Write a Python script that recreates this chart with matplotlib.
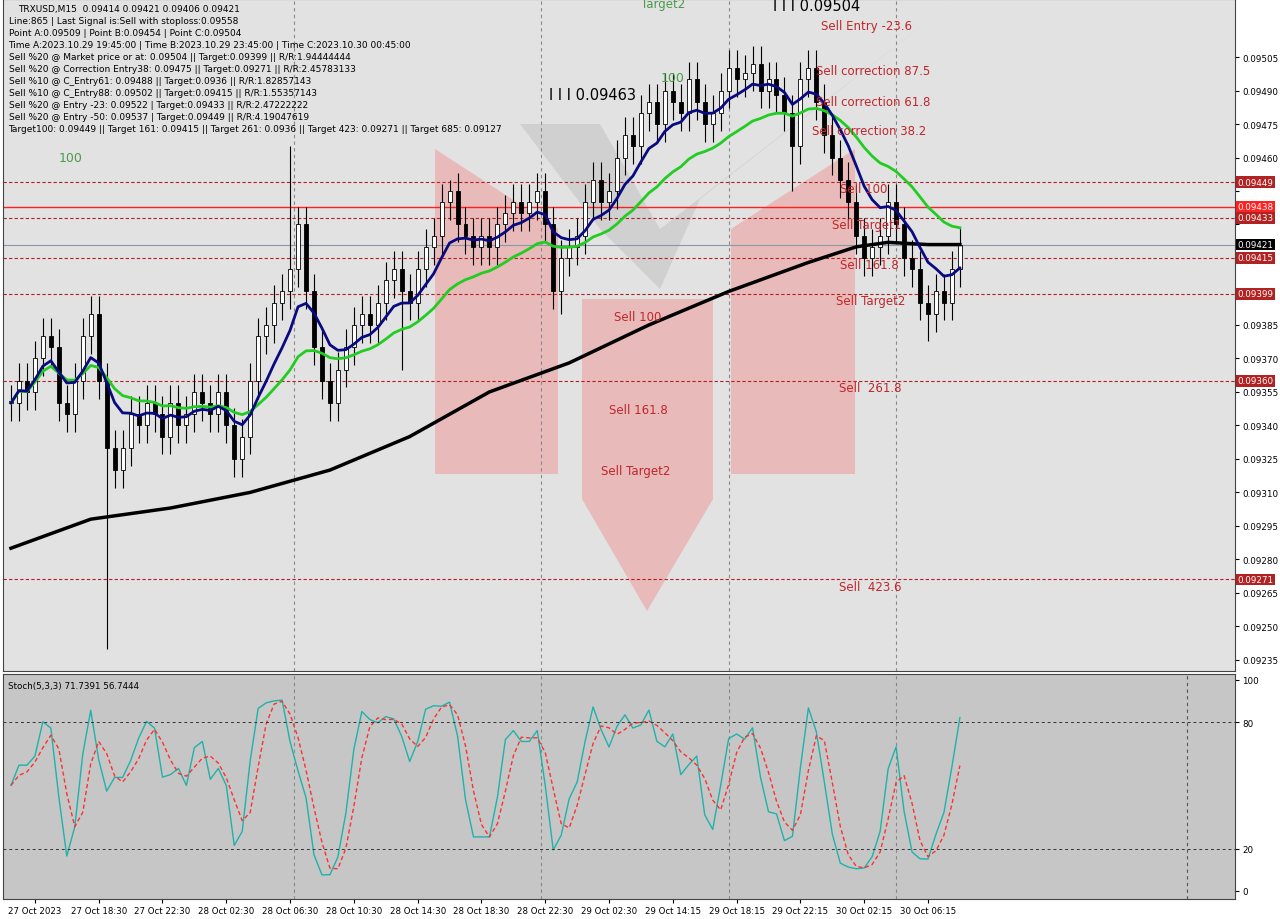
import matplotlib
matplotlib.use("Agg")
import matplotlib.pyplot as plt
import numpy as np
import pandas as pd
from matplotlib.patches import Polygon, Rectangle

# ── Data (30-min-equivalent bars) ────────────────────────────────────────────
closes = [
    0.09350, 0.09360, 0.09355, 0.09370, 0.09380, 0.09375, 0.09350, 0.09345, 0.09360, 0.09380,
    0.09390, 0.09360, 0.09330, 0.09320, 0.09330, 0.09345, 0.09340, 0.09350, 0.09345, 0.09335,
    0.09350, 0.09340, 0.09345, 0.09355, 0.09350, 0.09345, 0.09355, 0.09340, 0.09325, 0.09335,
    0.09360, 0.09380, 0.09385, 0.09395, 0.09400, 0.09410, 0.09430, 0.09400, 0.09375, 0.09360,
    0.09350, 0.09365, 0.09375, 0.09385, 0.09390, 0.09385, 0.09395, 0.09405, 0.09410, 0.09400,
    0.09395, 0.09410, 0.09420, 0.09425, 0.09440, 0.09445, 0.09430, 0.09425, 0.09420, 0.09425,
    0.09420, 0.09430, 0.09435, 0.09440, 0.09435, 0.09440, 0.09445, 0.09430, 0.09400, 0.09415,
    0.09420, 0.09425, 0.09440, 0.09450, 0.09440, 0.09445, 0.09460, 0.09470, 0.09465, 0.09480,
    0.09485, 0.09475, 0.09490, 0.09485, 0.09480, 0.09495, 0.09485, 0.09475, 0.09480, 0.09490,
    0.09500, 0.09495, 0.09498, 0.09502, 0.09490, 0.09495, 0.09488, 0.09480, 0.09465, 0.09495,
    0.09500, 0.09485, 0.09470, 0.09460, 0.09450, 0.09440, 0.09425, 0.09415, 0.09420, 0.09425,
    0.09440, 0.09430, 0.09415, 0.09410, 0.09395, 0.09390, 0.09400, 0.09395, 0.09410, 0.09421,
]
long_wicks = {12: 0.09240, 35: 0.09465, 49: 0.09365, 55: 0.09450, 69: 0.09390, 98: 0.09445, 115: 0.09378}
ma200_x = [0, 10, 20, 30, 40, 50, 60, 70, 80, 90, 100, 106, 110, 115, 119]
ma200_v = [0.09285, 0.09298, 0.09303, 0.09310, 0.09320, 0.09335, 0.09355, 0.09368, 0.09385, 0.09400,
           0.09413, 0.09420, 0.09422, 0.09421, 0.09421]
levels_dash = [0.09449, 0.09433, 0.09415, 0.09399, 0.09360, 0.09271]
level_solid = 0.09438
level_last = 0.09421
tick_labels = ["27 Oct 2023", "27 Oct 18:30", "27 Oct 22:30", "28 Oct 02:30", "28 Oct 06:30",
               "28 Oct 10:30", "28 Oct 14:30", "28 Oct 18:30", "28 Oct 22:30", "29 Oct 02:30",
               "29 Oct 14:15", "29 Oct 18:15", "29 Oct 22:15", "30 Oct 02:15", "30 Oct 06:15"]
price_ticks = [0.09235, 0.09250, 0.09265, 0.09280, 0.09295, 0.09310, 0.09325, 0.09340, 0.09355,
               0.09370, 0.09385, 0.09400, 0.09415, 0.09430, 0.09445, 0.09460, 0.09475, 0.09490, 0.09505]
info_lines = [
    "TRXUSD,M15  0.09414 0.09421 0.09406 0.09421",
    "Line:865 | Last Signal is:Sell with stoploss:0.09558",
    "Point A:0.09509 | Point B:0.09454 | Point C:0.09504",
    "Time A:2023.10.29 19:45:00 | Time B:2023.10.29 23:45:00 | Time C:2023.10.30 00:45:00",
    "Sell %20 @ Market price or at: 0.09504 || Target:0.09399 || R/R:1.94444444",
    "Sell %20 @ Correction Entry38: 0.09475 || Target:0.09271 || R/R:2.45783133",
    "Sell %10 @ C_Entry61: 0.09488 || Target:0.0936 || R/R:1.82857143",
    "Sell %10 @ C_Entry88: 0.09502 || Target:0.09415 || R/R:1.55357143",
    "Sell %20 @ Entry -23: 0.09522 | Target:0.09433 || R/R:2.47222222",
    "Sell %20 @ Entry -50: 0.09537 | Target:0.09449 || R/R:4.19047619",
    "Target100: 0.09449 || Target 161: 0.09415 || Target 261: 0.0936 || Target 423: 0.09271 || Target 685: 0.09127",
]

# ── Derived ohlc ─────────────────────────────────────────────────────────────
c = pd.Series(closes)
o = c.shift(1).fillna(c.iloc[0])
hi = np.maximum(o, c) + 0.00008
lo = np.minimum(o, c) - 0.00008
for k, v in long_wicks.items():
    if v > c[k]:
        hi[k] = v
    else:
        lo[k] = v
ema_fast = c.ewm(span=8).mean()
ema_slow = c.ewm(span=22).mean()
ll = lo.rolling(5, min_periods=1).min()
hh = hi.rolling(5, min_periods=1).max()
k_raw = 100 * (c - ll) / (hh - ll)
stoch_k = k_raw.rolling(2, min_periods=1).mean()
stoch_d = stoch_k.rolling(3, min_periods=1).mean()

# ── Figure ───────────────────────────────────────────────────────────────────
fig = plt.figure(figsize=(12.8, 9.2), dpi=100)
fig.patch.set_facecolor("white")
AX_L, AX_R, AX_T, AX_B = 3, 1235, 0, 672
ax = fig.add_axes([AX_L / 1280, 1 - AX_B / 920, (AX_R - AX_L) / 1280, (AX_B - AX_T) / 920])
ax2 = fig.add_axes([AX_L / 1280, 20 / 920, (AX_R - AX_L) / 1280, 255 / 920 - 30 / 920])
ax.set_facecolor("#e2e2e2")
ax2.set_facecolor("#c6c6c6")
XMAX = 153.5
for a in (ax, ax2):
    a.set_xlim(-1, XMAX)
    a.yaxis.tick_right()
    a.tick_params(axis="y", length=3, pad=2)
    for s in a.spines.values():
        s.set_color("#444444")
        s.set_linewidth(0.8)
ax.set_ylim(0.09230, 0.09531)
ax2.set_ylim(-3.8, 102.8)

# watermark shapes, pixel coords -> axes fraction
def px(x, y):
    return ((x - AX_L) / (AX_R - AX_L), 1 - (y - AX_T) / (AX_B - AX_T))

wm = dict(facecolor="#f08a8a", alpha=0.45, edgecolor="none", zorder=0.5, transform=ax.transAxes)
ax.add_patch(Polygon([px(520, 125), px(600, 125), px(660, 230), px(950, 5),
                      px(700, 200), px(660, 290), px(600, 230)],
                     facecolor="#a8a8a8", alpha=0.3, edgecolor="none", zorder=0.4, transform=ax.transAxes))
ax.add_patch(Polygon([px(435, 150), px(558, 230), px(558, 475), px(435, 475)], **wm))
ax.add_patch(Polygon([px(731, 230), px(855, 150), px(855, 475), px(731, 475)], **wm))
ax.add_patch(Polygon([px(582, 300), px(713, 300), px(713, 500), px(647, 612), px(582, 500)], **wm))

# vertical dotted separators
for xv in [35.5, 66.5, 90, 111]:
    ax.axvline(xv, color="#888888", ls=(0, (3, 3)), lw=0.8)
    ax2.axvline(xv, color="#888888", ls=(0, (3, 3)), lw=0.8)
ax2.axvline(147.5, color="#555555", ls=(0, (3, 3)), lw=0.8)

# levels
def level_tag(lv, fc):
    ax.text(1.002, lv, f"{lv:.5f}", transform=ax.get_yaxis_transform(), fontsize=6.3,
            color="white", va="center", ha="left", zorder=8,
            bbox=dict(boxstyle="square,pad=0.15", fc=fc, ec="none"))

for lv in levels_dash:
    ax.axhline(lv, color="#b22222", ls=(0, (3, 2)), lw=0.8)
    level_tag(lv, "#b22222")
ax.axhline(level_solid, color="#ff2020", lw=1.0)
level_tag(level_solid, "#ff2020")
ax.axhline(level_last, color="#8899aa", lw=0.8)
level_tag(level_last, "black")

# candles
xs = np.arange(len(closes))
for i in xs:
    ax.vlines(i, lo[i], hi[i], color="black", lw=0.8, zorder=3)
    bottom = min(o[i], c[i])
    h = max(abs(c[i] - o[i]), 0.000008)
    ax.add_patch(Rectangle((i - 0.25, bottom), 0.5, h, fc="white" if c[i] >= o[i] else "black",
                           ec="black", lw=0.6, zorder=3))

ax.plot(ma200_x, ma200_v, color="black", lw=2.5, zorder=4)
ax.plot(xs, ema_slow, color="#22cc22", lw=2.0, zorder=4)
ax.plot(xs, ema_fast, color="#0a0a80", lw=2.0, zorder=4)

# annotations
red = "#c0262a"
for x, y, s in [(79, 0.09529, "Target2"), (101.6, 0.09519, "Sell Entry -23.6"),
                (101, 0.09499, "Sell correction 87.5"), (101, 0.09485, "Sell correction 61.8"),
                (100.5, 0.09472, "Sell correction 38.2"), (104, 0.09446, "Sell 100"),
                (103, 0.09430, "Sell Target1"), (104, 0.09412, "Sell 161.8"),
                (103.5, 0.09396, "Sell Target2"), (75.6, 0.09389, "Sell 100"), (75, 0.09347, "Sell 161.8"),
                (74, 0.09320, "Sell Target2"), (103.8, 0.09357, "Sell  261.8"), (103.8, 0.09268, "Sell  423.6")]:
    ax.text(x, y, s, fontsize=8.5, color=red if s != "Target2" else "#4a9a4a", va="center", zorder=6)
ax.text(67.5, 0.09488, "I I I 0.09463", fontsize=10.5, color="black", va="center")
ax.text(95.6, 0.09528, "I I I 0.09504", fontsize=10.5, color="black", va="center")
ax.text(6, 0.09460, "100", fontsize=9, color="#4a9a4a", va="center")
ax.text(81.5, 0.09496, "100", fontsize=9, color="#4a9a4a", va="center")

for i, line in enumerate(info_lines):
    ax.text(0.0045 if i else 0.012, 0.993 - i * 0.0179, line, transform=ax.transAxes, fontsize=6.5,
            va="top", color="black", zorder=7)

# tick labels hidden where a level tag sits on top of them
tags = levels_dash + [level_solid, level_last]
ax.set_yticks(price_ticks)
ax.set_yticklabels(["" if min(abs(p - t) for t in tags) < 0.00005 else f"{p:.5f}" for p in price_ticks],
                   fontsize=6.3)
ax.set_xticks([])

# stochastic
ax2.plot(xs, stoch_k, color="#20b2aa", lw=1.0)
ax2.plot(xs, stoch_d, color="#ff3030", lw=1.0, ls=(0, (3, 2)))
for lv in (20, 80):
    ax2.axhline(lv, color="#333333", ls=(0, (3, 3)), lw=0.7)
ax2.set_yticks([0, 20, 80, 100])
ax2.set_yticklabels(["0", "20", "80", "100"], fontsize=6.3)
ax2.text(0.004, 0.97, "Stoch(5,3,3) 71.7391 56.7444", transform=ax2.transAxes, fontsize=6.3, va="top")
ax2.set_xticks([3 + 8 * k for k in range(len(tick_labels))])
ax2.set_xticklabels(tick_labels, fontsize=6.2)
ax2.tick_params(axis="x", length=3, pad=2)

fig.savefig("out.png", dpi=100)
